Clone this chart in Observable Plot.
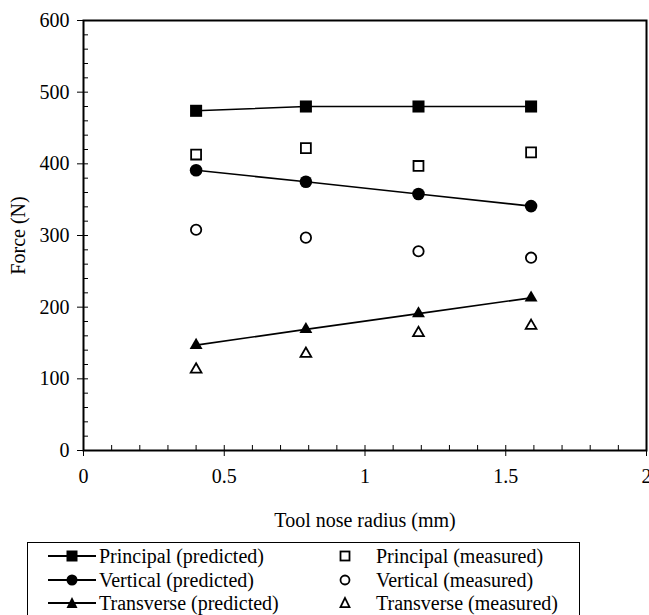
<!DOCTYPE html>
<html>
<head>
<meta charset="utf-8">
<script src="https://cdn.jsdelivr.net/npm/d3@7"></script>
<script src="https://cdn.jsdelivr.net/npm/@observablehq/plot@0.6"></script>
<style>
  html, body { margin: 0; padding: 0; background: #fff; }
  #wrap { position: relative; width: 649px; height: 615px; overflow: hidden; font-family: "Liberation Serif", "Times New Roman", serif; }
  #legend { position: absolute; left: 27px; top: 542px; width: 553px; height: 90px; border: 1px solid #000; box-sizing: border-box; }
  .item { position: absolute; height: 24px; display: flex; align-items: center; font-size: 20px; white-space: nowrap; color: #000; }
  .item svg { flex: none; }
</style>
</head>
<body>
<div id="wrap">
  <div id="chart"></div>
  <div id="legend"></div>
</div>
<script>
const radius = [0.4, 0.79, 1.19, 1.59];
const principalPredicted = [474, 480, 480, 480];
const principalMeasured = [413, 422, 397, 416];
const verticalPredicted = [391, 375, 358, 341];
const verticalMeasured = [308, 297, 278, 269];
const transversePredicted = [147, 169, 191, 213];
const transverseMeasured = [113, 135, 164, 174];

const xMajorTicks = [0, 0.5, 1, 1.5, 2];
const xMinorTicks = d3.range(0, 21).map(i => i / 10);
const yMajorTicks = [0, 100, 200, 300, 400, 500, 600];
const yMinorTicks = d3.range(0, 31).map(i => i * 20);

const seriesNames = [
  "Principal (predicted)", "Vertical (predicted)", "Transverse (predicted)",
  "Principal (measured)", "Vertical (measured)", "Transverse (measured)"
];

const toRows = (vals, name) => radius.map((r, i) => ({x: r, y: vals[i], series: name}));
const pp = toRows(principalPredicted, seriesNames[0]);
const vp = toRows(verticalPredicted, seriesNames[1]);
const tp = toRows(transversePredicted, seriesNames[2]);
const pm = toRows(principalMeasured, seriesNames[3]);
const vm = toRows(verticalMeasured, seriesNames[4]);
const tm = toRows(transverseMeasured, seriesNames[5]);

const chart = Plot.plot({
  width: 649,
  height: 540,
  marginLeft: 83,
  marginRight: 3,
  marginTop: 20,
  marginBottom: 90,
  style: {fontFamily: "Liberation Serif, Times New Roman, serif", fontSize: "20px", color: "#000", background: "#fff", overflow: "visible"},
  x: {domain: [0, 2]},
  y: {domain: [0, 600]},
  marks: [
    // minor (inside) ticks
    Plot.axisX({ticks: xMinorTicks, tickSize: -5, tickFormat: () => "", label: null}),
    Plot.axisY({ticks: yMinorTicks, tickSize: -5, tickFormat: () => "", label: null}),
    // major ticks with labels
    Plot.axisX({ticks: xMajorTicks, tickSize: 6, tickPadding: 12, tickFormat: d => String(d),
      label: "Tool nose radius (mm)", labelAnchor: "center", labelArrow: "none", labelOffset: 76}),
    Plot.axisY({ticks: yMajorTicks, tickSize: 6, tickPadding: 8, tickFormat: d => String(d),
      label: "Force (N)", labelAnchor: "center", labelArrow: "none", labelOffset: 73}),
    Plot.frame({stroke: "#000", strokeWidth: 2}),
    // predicted lines
    Plot.line(pp, {x: "x", y: "y", stroke: "#000", strokeWidth: 1.6}),
    Plot.line(vp, {x: "x", y: "y", stroke: "#000", strokeWidth: 1.6}),
    Plot.line(tp, {x: "x", y: "y", stroke: "#000", strokeWidth: 1.6}),
    // predicted markers
    Plot.dot(pp, {x: "x", y: "y", symbol: "square", r: 6.8, fill: "#000", stroke: "none"}),
    Plot.dot(vp, {x: "x", y: "y", symbol: "circle", r: 6.3, fill: "#000", stroke: "none"}),
    Plot.dot(tp, {x: "x", y: "y", symbol: "triangle", r: 4.8, fill: "#000", stroke: "none"}),
    // measured markers
    Plot.dot(pm, {x: "x", y: "y", symbol: "square", r: 5.6, fill: "#fff", stroke: "#000", strokeWidth: 1.8}),
    Plot.dot(vm, {x: "x", y: "y", symbol: "circle", r: 5.2, fill: "#fff", stroke: "#000", strokeWidth: 1.8}),
    Plot.dot(tm, {x: "x", y: "y", symbol: "triangle", r: 4.0, fill: "#fff", stroke: "#000", strokeWidth: 1.8})
  ]
});
document.getElementById("chart").appendChild(chart);

// Legend
const legend = document.getElementById("legend");
const symbolSvg = (shape, filled, withLine) => {
  const w = withLine ? 48 : 14;
  const cx = w / 2, cy = 12;
  let s = `<svg width="${w}" height="24" viewBox="0 0 ${w} 24">`;
  if (withLine) s += `<line x1="0" x2="${w}" y1="${cy}" y2="${cy}" stroke="#000" stroke-width="2"/>`;
  const fill = filled ? "#000" : "#fff";
  const sw = filled ? 0 : 1.8;
  const sz = filled ? 11 : 9;
  if (shape === "square") s += `<rect x="${cx - sz/2}" y="${cy - sz/2}" width="${sz}" height="${sz}" fill="${fill}" stroke="#000" stroke-width="${sw}"/>`;
  if (shape === "circle") s += `<circle cx="${cx}" cy="${cy}" r="${sz/2}" fill="${fill}" stroke="#000" stroke-width="${sw}"/>`;
  if (shape === "triangle") {
    const h = sz * 0.9;
    s += `<polygon points="${cx},${cy - h/2 - 1} ${cx - sz/2},${cy + h/2} ${cx + sz/2},${cy + h/2}" fill="${fill}" stroke="#000" stroke-width="${sw}" stroke-linejoin="miter"/>`;
  }
  return s + "</svg>";
};
const shapes = ["square", "circle", "triangle"];
const rowTops = [1, 25, 48];
shapes.forEach((shape, i) => {
  const a = document.createElement("div");
  a.className = "item";
  a.style.left = "20px"; a.style.top = rowTops[i] + "px";
  a.innerHTML = symbolSvg(shape, true, true) + `<span style="margin-left:3px">${seriesNames[i]}</span>`;
  legend.appendChild(a);
  const b = document.createElement("div");
  b.className = "item";
  b.style.left = "310px"; b.style.top = rowTops[i] + "px";
  b.innerHTML = symbolSvg(shape, false, false) + `<span style="margin-left:24px">${seriesNames[i + 3]}</span>`;
  legend.appendChild(b);
});
</script>
</body>
</html>
